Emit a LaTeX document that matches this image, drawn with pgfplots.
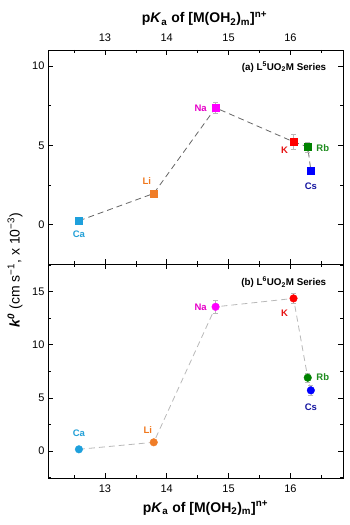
\documentclass[border=0pt]{standalone}
\usepackage{pgfplots}
\pgfplotsset{compat=1.18}
\usepackage{fontspec}
\setmainfont{Liberation Sans}
\definecolor{cCa}{RGB}{30,160,220}
\definecolor{cLi}{RGB}{240,125,40}
\definecolor{cNa}{RGB}{255,0,255}
\definecolor{cK}{RGB}{255,0,0}
\definecolor{cRb}{RGB}{0,130,0}
\definecolor{cCs}{RGB}{0,0,255}
\definecolor{lCa}{RGB}{35,160,215}
\definecolor{lLi}{RGB}{240,120,30}
\definecolor{lNa}{RGB}{230,0,200}
\definecolor{lK}{RGB}{230,20,20}
\definecolor{lRb}{RGB}{30,140,30}
\definecolor{lCs}{RGB}{20,20,160}
\tikzset{lab/.style={font=\bfseries\fontsize{9.5}{10}\selectfont}}
\pgfplotsset{
  myax/.style={
    scale only axis, width=295pt, height=214pt,
    xmin=12.08, xmax=16.85,
    xtick={13,14,15,16}, minor xtick={12.5,13.5,14.5,15.5,16.5},
    tick align=inside,
    major tick length=5pt, minor tick length=3pt,
    tick style={black, line width=0.6pt},
    axis line style={line width=0.8pt},
    ticklabel style={font=\fontsize{11}{13}\selectfont},
    /pgf/number format/assume math mode=true,
    clip=false,
  },
  eb/.style={error bars/.cd, y dir=both, y explicit,
    error bar style={gray!55, line width=0.6pt},
    error mark options={rotate=90, mark size=2.5pt, gray!55, line width=0.6pt}},
}
\begin{document}
\begin{tikzpicture}[x=1pt,y=1pt]
% top panel
\begin{axis}[myax, at={(48pt,261pt)}, anchor=south west,
  ymin=-2.47, ymax=11, ytick={0,5,10}, minor ytick={-2.5,2.5,7.5},
  xticklabel pos=top,
  xticklabel style={yshift=5pt},
  xlabel={\bfseries\fontsize{14}{16}\selectfont p\textit{K}\textsubscript{a} of [M(OH\textsubscript{2})\textsubscript{m}]\textsuperscript{n+}},
  xlabel style={yshift=1pt, xshift=9pt},
]
\addplot[color=black!60, line width=0.8pt, dash pattern=on 6pt off 4pt] coordinates {
 (12.58,0.25) (13.79,1.97) (14.79,7.36) (16.05,5.22) (16.28,4.90) (16.33,3.42)};
\addplot[only marks, mark=square*, mark size=3.5pt, color=cCa, eb] coordinates {(12.58,0.25) +- (0,0.1)};
\addplot[only marks, mark=square*, mark size=3.5pt, color=cLi, eb] coordinates {(13.79,1.97) +- (0,0.1)};
\addplot[only marks, mark=square*, mark size=3.5pt, color=cNa, eb] coordinates {(14.79,7.36) +- (0,0.32)};
\addplot[only marks, mark=square*, mark size=3.5pt, color=cK, eb] coordinates {(16.05,5.22) +- (0,0.5)};
\addplot[only marks, mark=square*, mark size=3.5pt, color=cRb, eb] coordinates {(16.28,4.90) +- (0,0.32)};
\addplot[only marks, mark=square*, mark size=3.5pt, color=cCs, eb] coordinates {(16.33,3.42) +- (0,0.15)};
\node[lab, text=lCa] at (axis cs:12.58,0.25) [yshift=-13pt] {Ca};
\node[lab, text=lLi] at (axis cs:13.79,1.97) [xshift=-7pt, yshift=12pt] {Li};
\node[lab, text=lNa] at (axis cs:14.79,7.36) [xshift=-15pt, yshift=-0.5pt] {Na};
\node[lab, text=lK] at (axis cs:16.05,5.22) [xshift=-9pt, yshift=-8pt] {K};
\node[lab, text=lRb] at (axis cs:16.28,4.90) [xshift=15pt, yshift=-1pt] {Rb};
\node[lab, text=lCs] at (axis cs:16.33,3.42) [yshift=-16pt] {Cs};
\node[anchor=north east, font=\bfseries\fontsize{9.8}{11}\selectfont] at (rel axis cs:0.955,0.96) {(a) L\textsuperscript{5}UO\textsubscript{2}M Series};
\end{axis}
% bottom panel
\begin{axis}[myax, at={(48pt,47pt)}, anchor=south west,
  ymin=-2.54, ymax=17.6, ytick={0,5,10,15}, minor ytick={-2.5,2.5,7.5,12.5,17.5},
  xticklabel pos=bottom,
  xticklabel style={yshift=-3pt},
  xlabel={\bfseries\fontsize{14}{16}\selectfont p\textit{K}\textsubscript{a} of [M(OH\textsubscript{2})\textsubscript{m}]\textsuperscript{n+}},
  xlabel style={yshift=-2pt, xshift=10pt},
]
\addplot[color=black!28, line width=0.8pt, dash pattern=on 6pt off 4pt] coordinates {
 (12.58,0.16) (13.79,0.82) (14.79,13.57) (16.05,14.36) (16.28,6.90) (16.33,5.71)};
\addplot[only marks, mark=*, mark size=3.8pt, color=cCa, eb] coordinates {(12.58,0.16) +- (0,0.1)};
\addplot[only marks, mark=*, mark size=3.8pt, color=cLi, eb] coordinates {(13.79,0.82) +- (0,0.15)};
\addplot[only marks, mark=*, mark size=3.8pt, color=cNa, eb] coordinates {(14.79,13.57) +- (0,0.6)};
\addplot[only marks, mark=*, mark size=3.8pt, color=cK, eb] coordinates {(16.05,14.36) +- (0,0.45)};
\addplot[only marks, mark=*, mark size=3.8pt, color=cRb, eb] coordinates {(16.28,6.90) +- (0,0.4)};
\addplot[only marks, mark=*, mark size=3.8pt, color=cCs, eb] coordinates {(16.33,5.71) +- (0,0.5)};
\node[lab, text=lCa] at (axis cs:12.58,0.16) [yshift=16pt] {Ca};
\node[lab, text=lLi] at (axis cs:13.79,0.82) [xshift=-6pt, yshift=12pt] {Li};
\node[lab, text=lNa] at (axis cs:14.79,13.57) [xshift=-15pt, yshift=0pt] {Na};
\node[lab, text=lK] at (axis cs:16.05,14.36) [xshift=-9pt, yshift=-15pt] {K};
\node[lab, text=lRb] at (axis cs:16.28,6.90) [xshift=15pt, yshift=1pt] {Rb};
\node[lab, text=lCs] at (axis cs:16.33,5.71) [yshift=-17pt] {Cs};
\node[anchor=north east, font=\bfseries\fontsize{9.8}{11}\selectfont] at (rel axis cs:0.955,0.955) {(b) L\textsuperscript{6}UO\textsubscript{2}M Series};
\end{axis}
\node[rotate=90, font=\fontsize{14}{16}\selectfont] at (15pt,255pt) {\textbf{\textit{k\textsuperscript{0}}} (cm s\textsuperscript{−1}, x 10\textsuperscript{−3})};
\pgfresetboundingbox
\path (0pt,0pt) rectangle (350pt,525pt);
\end{tikzpicture}
\end{document}
